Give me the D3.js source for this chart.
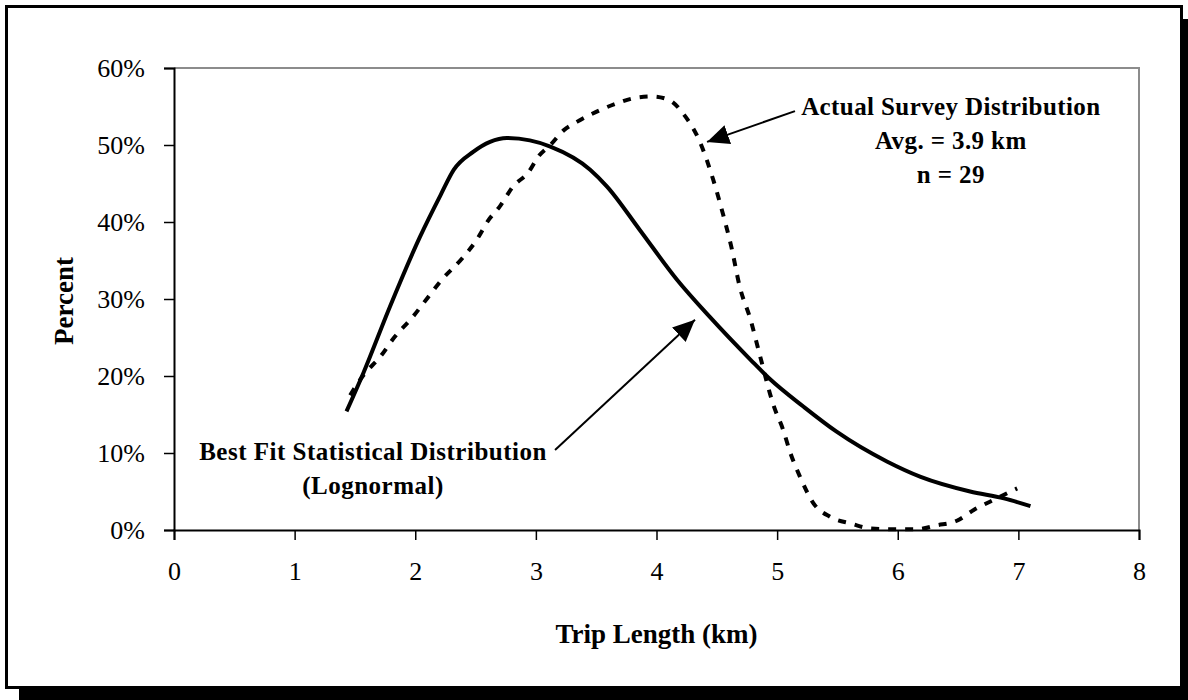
<!DOCTYPE html>
<html><head><meta charset="utf-8">
<script src="https://cdn.jsdelivr.net/npm/d3@7"></script>
<style>
html,body{margin:0;padding:0;background:#fff;}
svg{display:block;}
text{font-family:"Liberation Serif","Times New Roman",serif;fill:#000;}
</style></head>
<body>
<svg id="chart" width="1188" height="700"></svg>
<script>
// ---- data ----
const xTicks = [0,1,2,3,4,5,6,7,8];
const yTicks = [0,10,20,30,40,50,60];
// Best fit lognormal (km, percent)
const fitKm  = [1.43,1.57,1.79,2.04,2.21,2.32,2.48,2.62,2.76,2.95,3.12,3.45,3.59,3.86,4.17,4.44,4.78,4.94,5.22,5.49,5.91,6.19,6.60,6.88,7.10];
const fitPct = [15.4,20.4,29.0,38.1,43.5,46.8,49.1,50.4,50.9,50.6,49.8,46.8,44.6,39.0,32.5,27.7,22.1,19.6,16.0,12.8,8.9,6.9,5.0,4.1,3.1];
// Actual survey distribution (km, percent)
const surKm  = [1.46,1.57,1.71,1.83,1.97,2.10,2.22,2.39,2.51,2.61,2.70,2.81,2.94,3.02,3.12,3.23,3.34,3.50,3.67,3.82,3.97,4.11,4.22,4.36,4.47,4.55,4.62,4.69,4.78,4.86,4.97,5.05,5.11,5.19,5.30,5.44,5.62,5.77,5.94,6.16,6.32,6.49,6.63,6.82,6.99];
const surPct = [17.5,20.1,22.5,25.1,27.5,30.1,32.5,35.3,37.7,40.3,42.0,44.6,46.5,48.5,50.0,51.9,53.0,54.3,55.4,56.1,56.3,55.8,54.1,50.4,45.5,41.1,36.8,31.6,27.3,22.5,16.2,13.0,10.0,6.9,3.5,1.7,0.8,0.2,0.1,0.1,0.6,1.2,2.6,4.1,5.4];
// annotations
const surveyLabel = ["Actual Survey Distribution","Avg. = 3.9 km","n = 29"];
const fitLabel = ["Best Fit Statistical Distribution","(Lognormal)"];

const svg = d3.select("#chart");
// frame with shadow
svg.append("rect").attr("x",19).attr("y",19).attr("width",1169).attr("height",681).attr("fill","#000");
svg.append("rect").attr("x",6.5).attr("y",6.5).attr("width",1175).attr("height",681)
  .attr("fill","#fff").attr("stroke","#000").attr("stroke-width",3);

const L=174,R=1139,T=68,B=530;
const x = d3.scaleLinear().domain([0,8]).range([L,R]);
const y = d3.scaleLinear().domain([0,60]).range([B,T]);

// plot border top/right gray
svg.append("path").attr("d",`M${L},${T}H${R}V${B}`).attr("fill","none").attr("stroke","#8c8c8c").attr("stroke-width",2);

const fs = 26;
const yAxis = svg.append("g").attr("transform",`translate(${L},0)`)
  .call(d3.axisLeft(y).tickValues(yTicks).tickSize(10).tickPadding(19).tickFormat(d=>d+"%"));
const xAxis = svg.append("g").attr("transform",`translate(0,${B})`)
  .call(d3.axisBottom(x).tickValues(xTicks).tickSize(10).tickPadding(22).tickFormat(d3.format("d")));
[yAxis,xAxis].forEach(g=>{
  g.selectAll("text").attr("font-family","Liberation Serif, serif").attr("font-size",fs).attr("fill","#000");
  g.selectAll("line").attr("stroke","#000").attr("stroke-width",1.5);
  g.select(".domain").attr("stroke","#000").attr("stroke-width",2);
});

// axis titles
svg.append("text").attr("x",(L+R)/2).attr("y",643).attr("text-anchor","middle")
  .attr("font-size",27).attr("font-weight","bold").text("Trip Length (km)");
svg.append("text").attr("transform","translate(73,301) rotate(-90)").attr("text-anchor","middle")
  .attr("font-size",27).attr("font-weight","bold").text("Percent");

const line = d3.line().x(d=>x(d[0])).y(d=>y(d[1])).curve(d3.curveMonotoneX);
const fitData = fitKm.map((k,i)=>[k,fitPct[i]]);
const surData = surKm.map((k,i)=>[k,surPct[i]]);

svg.append("path").datum(fitData).attr("d",line).attr("fill","none")
  .attr("stroke","#000").attr("stroke-width",4).attr("stroke-linejoin","round");
svg.append("path").datum(surData).attr("d",line).attr("fill","none")
  .attr("stroke","#000").attr("stroke-width",4).attr("stroke-dasharray","8,9");

// arrows
const defs = svg.append("defs");
defs.append("marker").attr("id","ah").attr("markerUnits","userSpaceOnUse")
  .attr("markerWidth",24).attr("markerHeight",22).attr("refX",22).attr("refY",10)
  .attr("orient","auto").append("path").attr("d","M0,0L22,10L0,20Z").attr("fill","#000");
const arrows = [[[5.148,54.4],[4.419,50.4]],[[3.159,10.4],[4.319,27.3]]];
arrows.forEach(a=>{
  svg.append("line").attr("x1",x(a[0][0])).attr("y1",y(a[0][1]))
    .attr("x2",x(a[1][0])).attr("y2",y(a[1][1]))
    .attr("stroke","#000").attr("stroke-width",2).attr("marker-end","url(#ah)");
});

// annotation text
const surPos = [[6.44,53.9],[6.44,49.5],[6.44,45.1]];
surveyLabel.forEach((t,i)=>{
  svg.append("text").attr("x",x(surPos[i][0])).attr("y",y(surPos[i][1])).attr("text-anchor","middle")
    .attr("font-size",25).attr("font-weight","bold").attr("letter-spacing",0.4).text(t);
});
const fitPos = [[1.65,9.1],[1.65,4.7]];
fitLabel.forEach((t,i)=>{
  svg.append("text").attr("x",x(fitPos[i][0])).attr("y",y(fitPos[i][1])).attr("text-anchor","middle")
    .attr("font-size",25).attr("font-weight","bold").attr("letter-spacing",0.5).text(t);
});
</script>
</body></html>
